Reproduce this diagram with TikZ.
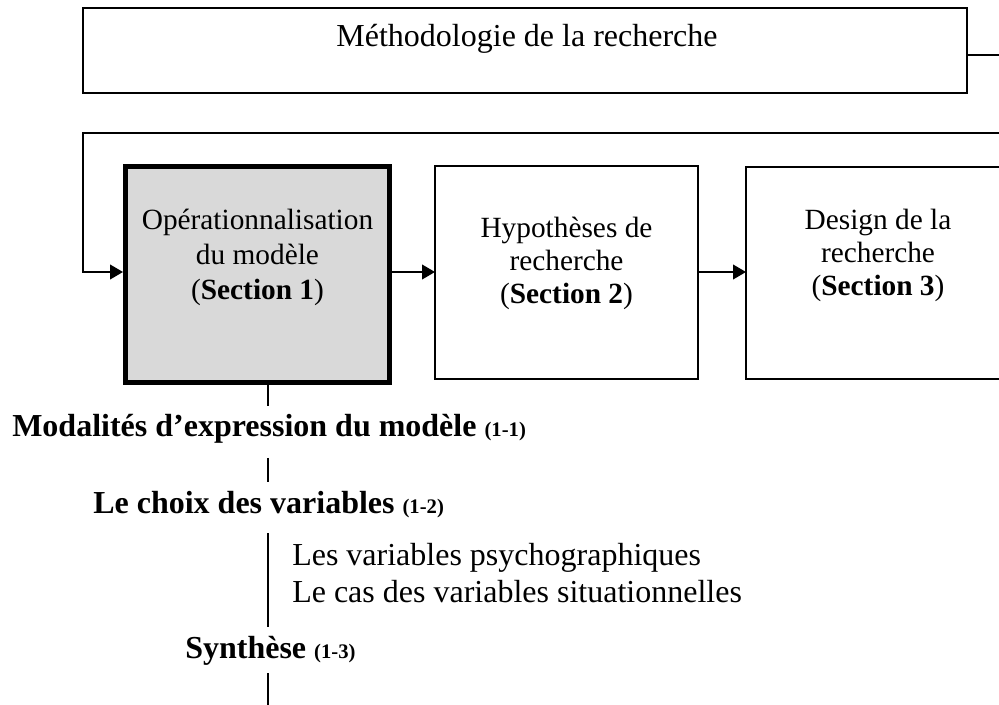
\documentclass[tikz,border=0pt]{standalone}
\usepackage{fontspec}
\setmainfont{Liberation Serif}
\usetikzlibrary{arrows.meta}
\definecolor{boxgray}{RGB}{217,217,217}
\begin{document}
\begin{tikzpicture}[x=0.75pt,y=-0.75pt,
  conn/.style={draw=black,line width=1.5pt},
  arr/.style={conn,-{Triangle[length=9.75pt,width=11pt]}},
  thinbox/.style={draw=black,line width=1.5pt,rectangle,inner sep=0pt,outer sep=0pt},
  thickbox/.style={draw=black,fill=boxgray,line width=3.75pt,rectangle,inner sep=0pt,outer sep=1.875pt},
  boxtxt/.style={anchor=base,inner sep=0pt,font=\fontsize{22}{25}\selectfont},
  bigtxt/.style={anchor=base west,inner sep=0pt,font=\fontsize{24}{28}\selectfont},
  toptxt/.style={anchor=base,inner sep=0pt,font=\fontsize{24}{28}\selectfont}]
\useasboundingbox (0,0) rectangle (999,705);
\newcommand{\smallnum}[1]{{\fontsize{15.5}{18}\selectfont\bfseries #1}}

% top box
\node[thinbox,minimum width=884*0.75pt,minimum height=85*0.75pt] (top) at (525,50.5) {};
\node[toptxt] (toptext) at (527,47) {Méthodologie de la recherche};

% section boxes
\node[thickbox,minimum width=264*0.75pt,minimum height=216*0.75pt] (s1) at (257.5,274.5) {};
\node[thinbox,minimum width=263*0.75pt,minimum height=213*0.75pt] (s2) at (566.5,272.5) {};
\node[thinbox,minimum width=264*0.75pt,minimum height=212*0.75pt] (s3) at (878,273) {};

\node[boxtxt] (s1t) at (257.5,230) {\fontsize{22}{26}\selectfont\setlength{\tabcolsep}{0pt}\begin{tabular}[t]{c}Opérationnalisation\\ du modèle\\ (\textbf{Section 1})\end{tabular}};
\node[boxtxt] (s2t) at (566.5,238) {\fontsize{22}{24.5}\selectfont\setlength{\tabcolsep}{0pt}\begin{tabular}[t]{c}Hypothèses de\\ recherche\\ (\textbf{Section 2})\end{tabular}};
\node[boxtxt] (s3t) at (878,230) {\fontsize{22}{24.5}\selectfont\setlength{\tabcolsep}{0pt}\begin{tabular}[t]{c}Design de la\\ recherche\\ (\textbf{Section 3})\end{tabular}};

% connectors
\coordinate (ay) at (0,272);
\coordinate (lt) at (999,133);
\coordinate (lc) at (83,133);
\coordinate (rt) at (999,55);
\draw[conn] (top.east |- rt) -- (rt);
\draw[arr] (lt) -- (lc) |- (s1.west |- ay);
\draw[arr] (s1.east |- ay) -- (s2.west |- ay);
\draw[arr] (s2.east |- ay) -- (s3.west |- ay);

% lower outline
\node[bigtxt] (m1) at (12,436) {\textbf{Modalités d’expression du modèle} \smallnum{(1-1)}};
\node[bigtxt] (m2) at (93,513) {\textbf{Le choix des variables} \smallnum{(1-2)}};
\node[bigtxt] (v1) at (292,565) {Les variables psychographiques};
\node[bigtxt] (v2) at (292,602) {Le cas des variables situationnelles};
\node[bigtxt] (m3) at (185,658) {\textbf{Synthèse} \smallnum{(1-3)}};

\coordinate (l1a) at (268,385);
\coordinate (l1b) at (268,406);
\coordinate (l2a) at (268,458);
\coordinate (l2b) at (268,482);
\coordinate (l3a) at (268,533);
\coordinate (l3b) at (268,627);
\coordinate (l4a) at (268,673);
\coordinate (l4b) at (268,705);
\draw[conn] (l1a) -- (l1b);
\draw[conn] (l2a) -- (l2b);
\draw[conn] (l3a) -- (l3b);
\draw[conn] (l4a) -- (l4b);
\end{tikzpicture}
\end{document}
